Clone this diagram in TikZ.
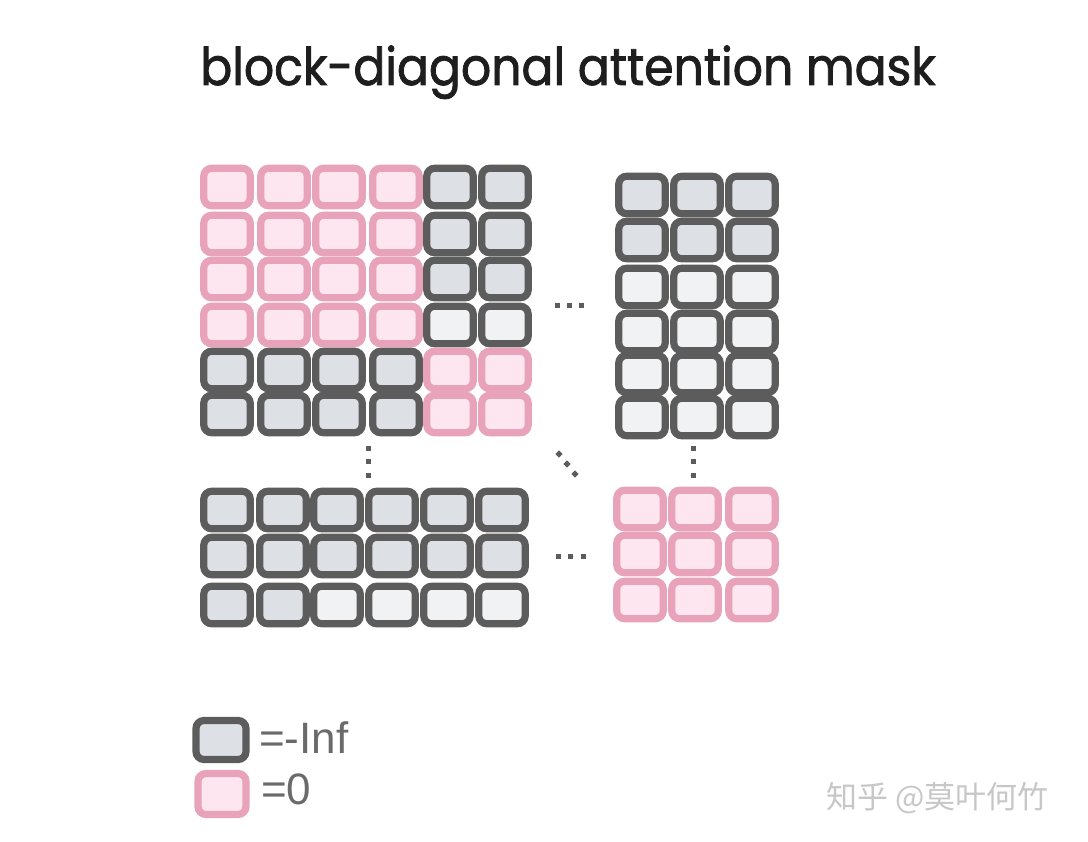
\documentclass[tikz,border=0pt]{standalone}
\usepackage{fontspec}
\setmainfont{Liberation Sans}
\newfontfamily\titlefont[FakeBold=1.6]{Poppins}
\newfontfamily\cjkfont{Noto Sans CJK SC}
\definecolor{pinkfill}{HTML}{FDE6EF}
\definecolor{pinkline}{HTML}{E8A3BA}
\definecolor{darkline}{HTML}{5C5C5C}
\definecolor{darkfill}{HTML}{DDE0E5}
\definecolor{lightfill}{HTML}{F1F2F4}
\definecolor{txtgray}{HTML}{6A6A6A}
\definecolor{titleblack}{HTML}{1E1E1E}
\begin{document}
\begin{tikzpicture}[x=1pt,y=-1pt,
  cellbase/.style={rectangle, rounded corners=8pt, line width=7.2pt,
    minimum width=46.5pt, minimum height=37.5pt, inner sep=0pt},
  pinkcell/.style={cellbase, draw=pinkline, fill=pinkfill},
  darkcell/.style={cellbase, draw=darkline, fill=darkfill},
  lightcell/.style={cellbase, draw=darkline, fill=lightfill},
  dotmark/.style={rectangle, fill=darkline, minimum size=5pt, inner sep=0pt},
  legtext/.style={font=\fontsize{44}{44}\selectfont, text=txtgray, anchor=base west, inner sep=0pt}]
\useasboundingbox (0,0) rectangle (1088,842);
\fill[white] (0,0) rectangle (1088,842);

% title
\node[font=\titlefont\fontsize{52}{56}\selectfont, text=titleblack, anchor=base, inner sep=0pt]
  (title) at (568,85) {\scalebox{0.91}[1]{block-diagonal attention mask}};

% top-left block (6x6)
\foreach \y/\a/\b [count=\r] in {187/pinkcell/darkcell, 234/pinkcell/darkcell,
    279/pinkcell/darkcell, 325/pinkcell/lightcell, 370/darkcell/pinkcell, 414/darkcell/pinkcell} {
  \foreach \x [count=\c] in {227,284,339,396,450,505} {
    \edef\sty{\ifnum\c<5 \a\else\b\fi}
    \node[\sty] (t-\r-\c) at (\x,\y) {};
  }
}

% top-right block (6x3)
\foreach \y/\a [count=\r] in {195/darkcell, 240/darkcell, 287/lightcell,
    332/lightcell, 374/lightcell, 417/lightcell} {
  \foreach \x [count=\c] in {642,697,752} {
    \node[\a] (r-\r-\c) at (\x,\y) {};
  }
}

% bottom-left block (3x6)
\foreach \y/\a/\b [count=\r] in {510/darkcell/darkcell, 556/darkcell/darkcell, 605/darkcell/lightcell} {
  \foreach \x [count=\c] in {227,283,337,392,447,502} {
    \edef\sty{\ifnum\c<3 \a\else\b\fi}
    \node[\sty] (b-\r-\c) at (\x,\y) {};
  }
}

% bottom-right block (3x3)
\foreach \y [count=\r] in {509,554,600} {
  \foreach \x [count=\c] in {640,695,752} {
    \node[pinkcell] (d-\r-\c) at (\x,\y) {};
  }
}

% ellipsis dots
\foreach \x [count=\i] in {557,569,581} { \node[dotmark] (h1-\i) at (\x,306) {}; }
\foreach \x [count=\i] in {558,570,583} { \node[dotmark] (h2-\i) at (\x,556) {}; }
\foreach \y [count=\i] in {449,462,475} {
  \node[dotmark] (v1-\i) at (368,\y) {};
  \node[dotmark] (v2-\i) at (693,\y) {};
}
\foreach \x/\y [count=\i] in {559/454, 567/464, 575/474} {
  \node[dotmark, rotate=45] (g-\i) at (\x,\y) {};
}

% legend
\node[cellbase, draw=darkline, fill=darkfill, minimum width=50pt, minimum height=39pt] (leg1) at (221,740) {};
\node[cellbase, draw=pinkline, fill=pinkfill, minimum width=48pt, minimum height=41pt] (leg2) at (222,794) {};
\node[legtext] (leg1t) at (259,753) {=-Inf};
\node[legtext] (leg2t) at (261,804) {=0};

% watermark
\node[font=\cjkfont\fontsize{31}{31}\selectfont, text=black!22, anchor=base west, inner sep=0pt]
  (wm) at (826,808) {知乎 @莫叶何竹};
\end{tikzpicture}
\end{document}
